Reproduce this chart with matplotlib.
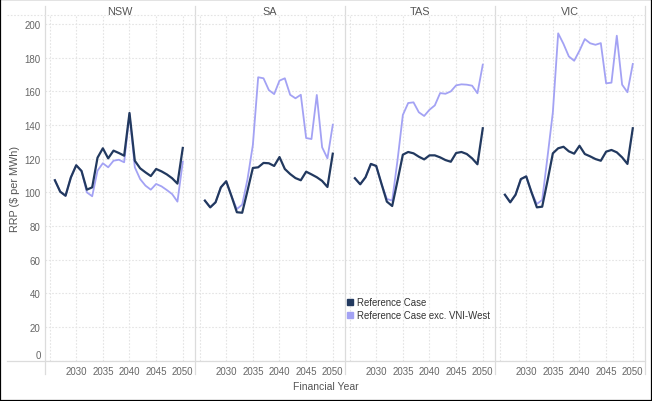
import matplotlib as mpl
mpl.use("Agg")
import matplotlib.pyplot as plt
from matplotlib.lines import Line2D
from matplotlib.patches import Rectangle

plt.rcParams["font.family"] = ["Liberation Sans", "DejaVu Sans"]

years = list(range(2026, 2051))
regions = ["NSW", "SA", "TAS", "VIC"]

nsw_ref = [107.1, 100.3, 97.9, 108.8, 116.0, 112.6, 101.5, 102.9, 120.5, 126.1,
           120.1, 124.7, 123.3, 121.7, 147.1, 118.7, 114.2, 111.8, 109.6, 113.8,
           112.4, 110.6, 108.3, 105.1, 126.3]
nsw_exc = [107.1, 100.3, 97.9, 108.8, 116.0, 112.6, 99.9, 97.6, 112.8, 117.2,
           114.8, 118.7, 119.3, 117.8, 146.5, 114.8, 107.8, 103.9, 101.5, 104.9,
           103.5, 101.3, 98.9, 94.4, 118.1]
sa_ref = [95.0, 91.0, 94.0, 102.9, 106.5, 97.6, 88.1, 87.8, 100.9, 114.4,
          114.8, 117.4, 117.2, 115.6, 120.9, 113.8, 110.8, 108.4, 107.1, 112.2,
          110.6, 108.9, 106.7, 103.1, 122.9]
sa_exc = [95.0, 91.0, 94.0, 102.9, 106.5, 97.6, 90.0, 92.6, 107.8, 128.0,
          168.3, 167.7, 160.7, 158.3, 166.3, 167.7, 157.9, 155.8, 157.9, 132.2,
          131.6, 157.8, 126.7, 120.1, 140.1]
tas_ref = [108.3, 104.7, 108.9, 116.8, 115.6, 104.9, 94.4, 91.8, 106.8, 122.3,
           123.9, 123.1, 121.1, 119.5, 121.9, 121.9, 120.7, 119.1, 118.1, 123.3,
           123.9, 122.7, 120.1, 116.6, 138.0]
tas_exc = [108.3, 104.7, 108.9, 116.8, 115.6, 104.9, 96.0, 95.0, 119.0, 145.9,
           153.0, 153.4, 147.5, 145.3, 149.0, 151.6, 158.9, 158.5, 159.9, 163.5,
           164.1, 163.9, 163.3, 158.8, 175.8]
vic_ref = [98.5, 94.0, 98.5, 107.8, 109.4, 99.9, 91.0, 91.4, 106.8, 123.1,
           126.1, 127.0, 124.3, 122.9, 127.6, 122.7, 121.3, 119.7, 118.7, 124.1,
           125.1, 123.7, 120.7, 116.8, 138.0]
vic_exc = [98.5, 94.0, 98.5, 107.8, 109.4, 99.9, 93.0, 95.4, 121.0, 147.5,
           194.4, 188.1, 180.7, 178.1, 184.1, 191.0, 188.5, 187.6, 188.6, 164.7,
           165.1, 193.0, 163.9, 159.4, 176.2]

ref_series = [nsw_ref, sa_ref, tas_ref, vic_ref]
exc_series = [nsw_exc, sa_exc, tas_exc, vic_exc]

series_labels = ["Reference Case", "Reference Case exc. VNI-West"]
x_ticks = [2025, 2030, 2035, 2040, 2045, 2050]
x_tick_labels = ["", "2030", "2035", "2040", "2045", "2050"]
y_ticks = [0, 20, 40, 60, 80, 100, 120, 140, 160, 180, 200]

DARK = "#22395f"
LIGHT = "#a3a2f4"
GRID = "#e4e4e4"
DIVIDER = "#dcdcdc"
TEXT = "#555555"

W, H = 652, 402


def fx(px):
    return px / W


def fy(py):
    return 1 - py / H


fig = plt.figure(figsize=(W / 100, H / 100), dpi=100)

top_px, bottom_px = 16, 361.5
panel_w = 150
left0 = 44.5

for i, region in enumerate(regions):
    left = left0 + panel_w * i
    ax = fig.add_axes([fx(left), fy(bottom_px), panel_w / W, (bottom_px - top_px) / H])
    ax.plot(years, exc_series[i], color=LIGHT, lw=1.3, zorder=3)
    ax.plot(years, ref_series[i], color=DARK, lw=1.6, zorder=4)

    ax.set_xlim(2024.05, 2052.2)
    ax.set_ylim(0, 205.3)
    ax.set_xticks(x_ticks)
    ax.set_xticklabels(x_tick_labels)
    ax.set_yticks(y_ticks)
    ax.grid(color=GRID, linestyle=(0, (1.5, 1.5)), linewidth=0.8)
    ax.set_axisbelow(True)
    for s in ax.spines.values():
        s.set_visible(False)
    ax.tick_params(axis="both", length=0, labelsize=7, labelcolor="#666666")
    ax.tick_params(axis="x", pad=4)
    ax.tick_params(axis="y", pad=2.8)
    if i > 0:
        ax.set_yticklabels([])
    else:
        ax.get_yticklabels()[0].set_va("bottom")

    fig.text(fx(left + panel_w / 2), fy(12), region, ha="center", va="center",
             fontsize=7.8, color=TEXT)

# panel dividers and frame lines
for i in range(len(regions) + 1):
    xp = left0 + panel_w * i
    fig.add_artist(Line2D([fx(xp), fx(xp)], [fy(7), fy(375)], color=DIVIDER,
                          lw=0.9, transform=fig.transFigure))
fig.add_artist(Line2D([fx(7), fx(644.5)], [fy(bottom_px), fy(bottom_px)], color=DIVIDER,
                      lw=0.9, transform=fig.transFigure))
fig.add_artist(Line2D([fx(7), fx(644.5)], [fy(top_px), fy(top_px)], color=GRID,
                      lw=0.8, linestyle=(0, (1.5, 1.5)), transform=fig.transFigure))

fig.text(fx(15), fy(189), "RRP ($ per MWh)", rotation=90, ha="center", va="center",
         fontsize=7.8, color=TEXT)
fig.text(fx(326), fy(387), "Financial Year", ha="center", va="center",
         fontsize=7.5, color=TEXT)

handles = [
    Line2D([], [], marker="s", ls="none", color=DARK, markersize=5),
    Line2D([], [], marker="s", ls="none", color=LIGHT, markersize=5),
]
fig.legend(handles, series_labels, loc="upper left", bbox_to_anchor=(fx(344), fy(296.5)),
           frameon=False, fontsize=6.9, handlelength=0.8, handletextpad=0.35,
           labelspacing=0.3, borderpad=0.2, borderaxespad=0, labelcolor="#333333")

fig.add_artist(Rectangle((0, 0), 1, 1, transform=fig.transFigure, fill=False,
                         edgecolor="black", lw=1.6))

fig.savefig("out.png", dpi=100)
